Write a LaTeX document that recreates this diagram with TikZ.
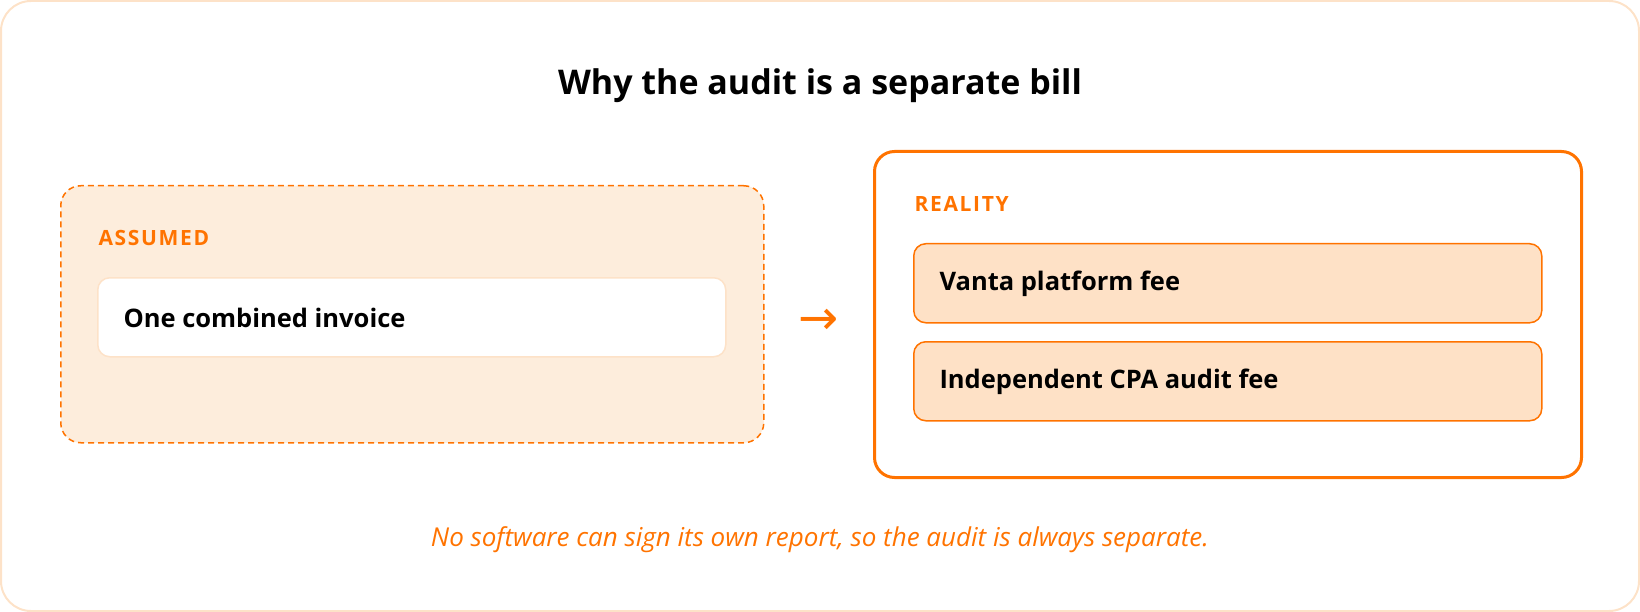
\documentclass[tikz,border=0pt]{standalone}
\usepackage{fontspec}
\setmainfont{Open Sans}
\newfontfamily\arrowfont{DejaVu Sans}
\newfontfamily\tagfont[LetterSpace=8]{Open Sans}
\usetikzlibrary{positioning}

\definecolor{accent}{HTML}{FF7300}
\definecolor{peachline}{HTML}{FDE2C8}
\definecolor{peachfill}{HTML}{FDEDDC}
\definecolor{itemfill}{HTML}{FEE1C6}

\begin{document}
\begin{tikzpicture}[x=1pt,y=-1pt,
    panel/.style={rounded corners=20pt, anchor=north west, inner sep=0pt},
    itembox/.style={rounded corners=12pt, anchor=north west, inner sep=0pt},
    itemtext/.style={anchor=west, font=\bfseries\fontsize{25.5}{30}\selectfont},
    tagtext/.style={anchor=west, text=accent, font=\tagfont\bfseries\fontsize{21}{25}\selectfont}]
    \useasboundingbox (0,0) rectangle (1640,612);
    \draw[peachline, line width=2pt, rounded corners=30pt] (1,1) rectangle (1639,611);
    % title
    \node[font=\bfseries\fontsize{34}{40}\selectfont] (title) at (820,86) {Why the audit is a separate bill};
    % left panel
    \node[panel, draw=accent, fill=peachfill, dash pattern=on 6pt off 4pt, line width=1.5pt,
        minimum width=703pt, minimum height=257pt] (assumed) at (60,185) {};
    \node[tagtext] (assumedtag) at (95,238) {ASSUMED};
    \node[itembox, draw=peachline, fill=white, line width=1.5pt,
        minimum width=628pt, minimum height=79pt] (combined) at (97,277) {};
    \node[itemtext] (combinedtext) at (120,318) {One combined invoice};
    % arrow
    \node[text=accent, font=\arrowfont\fontsize{48}{48}\selectfont] (arrow) at (819,322) {→};
    % right panel
    \node[panel, draw=accent, fill=white, line width=3pt,
        minimum width=707pt, minimum height=326pt] (reality) at (873,150) {};
    \node[tagtext] (realitytag) at (911,204) {REALITY};
    \node[itembox, draw=accent, fill=itemfill, line width=1.5pt,
        minimum width=628pt, minimum height=79pt] (platform) at (913,243) {};
    \node[itemtext] (platformtext) at (936,284) {Vanta platform fee};
    \node[itembox, draw=accent, fill=itemfill, line width=1.5pt,
        minimum width=628pt, minimum height=79pt] (cpa) at (913,341) {};
    \node[itemtext] (cpatext) at (936,382) {Independent CPA audit fee};
    % footer
    \node[text=accent, font=\itshape\fontsize{26}{30}\selectfont] (footer) at (820,540)
        {No software can sign its own report, so the audit is always separate.};
\end{tikzpicture}
\end{document}
